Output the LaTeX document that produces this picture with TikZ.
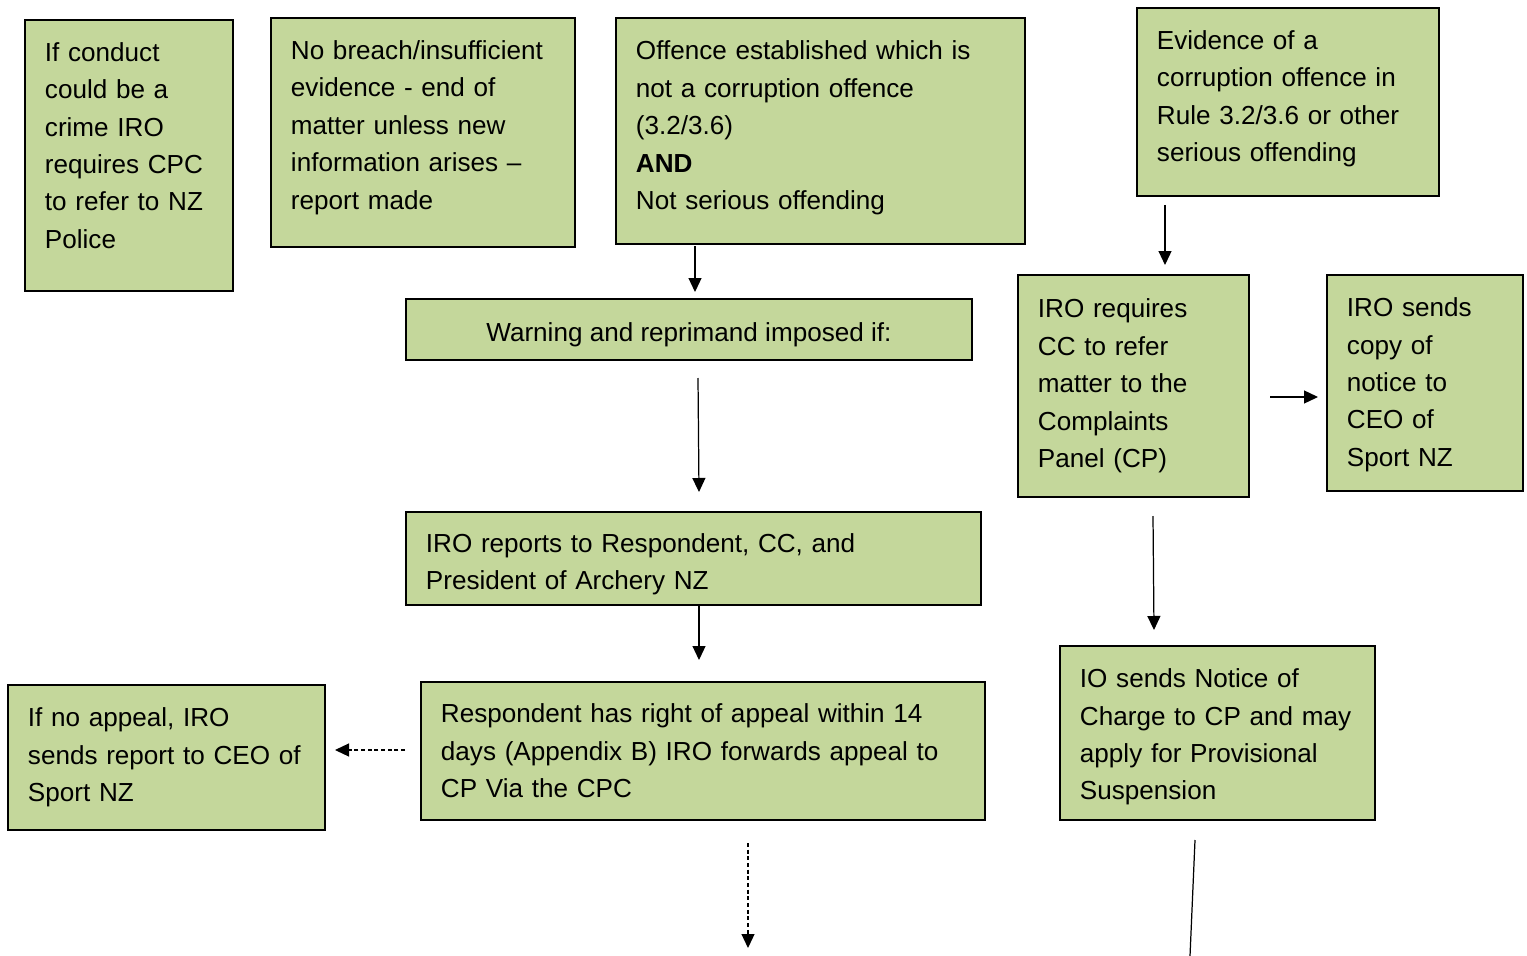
\documentclass[tikz,border=0pt]{standalone}
\usepackage{fontspec}
\setmainfont{Liberation Sans}
\usetikzlibrary{arrows.meta}
\definecolor{boxgreen}{RGB}{196,215,155}
\tikzset{
	box/.style={draw=black,line width=1.1pt,fill=boxgreen,anchor=north west,align=left,inner xsep=0.4cm,inner ysep=0pt,font=\fontsize{14.85pt}{21.3pt}\selectfont},
	arr/.style={line width=0.7pt,-{Triangle[length=0.28cm,width=0.26cm]}},
	dasharr/.style={arr,dash pattern=on 2.3pt off 1.5pt}
}
\begin{document}
\begin{tikzpicture}[x=0.02cm,y=-0.02cm]
	\useasboundingbox (0,0) rectangle (1527,956);
	% top row
	\node[box,text width=3.36cm,minimum height=5.42cm] (crime) at (24,19) {If conduct\\could be a\\crime IRO\\requires CPC\\to refer to NZ\\Police\par\kern11.4pt};
	\node[box,text width=5.28cm,minimum height=4.58cm] (nobreach) at (270,17) {No breach/insufficient\\evidence - end of\\matter unless new\\information arises --\\report made\par\kern5.7pt};
	\node[box,text width=7.38cm,minimum height=4.52cm] (offence) at (615,17) {Offence established which is\\not a corruption offence\\(3.2/3.6)\\\textbf{AND}\\Not serious offending\par\kern3.4pt};
	\node[box,text width=5.24cm,minimum height=3.76cm] (evidence) at (1136,7) {Evidence of a\\corruption offence in\\Rule 3.2/3.6 or other\\serious offending\par\kern3.4pt};
	% middle
	\node[box,align=center,minimum width=11.32cm,minimum height=1.22cm,text height=13.5pt,text depth=0pt] (warn) at (405,298) {Warning and reprimand imposed if:};
	\node[box,text width=3.82cm,minimum height=4.44cm] (refer) at (1017,274) {IRO requires\\CC to refer\\matter to the\\Complaints\\Panel (CP)};
	\node[box,text width=3.12cm,minimum height=4.32cm] (notice) at (1326,274) {IRO sends\\copy of\\notice to\\CEO of\\Sport NZ\par\kern-2pt};
	\node[box,text width=10.7cm,minimum height=1.86cm] (reports) at (405,511) {IRO reports to Respondent, CC, and\\President of Archery NZ\par\kern-6.8pt};
	% bottom row
	\node[box,text width=10.48cm,minimum height=2.76cm] (appeal) at (420,681) {Respondent has right of appeal within 14\\days (Appendix B) IRO forwards appeal to\\CP Via the CPC};
	\node[box,text width=5.54cm,minimum height=2.9cm] (noappeal) at (7,684) {If no appeal, IRO\\sends report to CEO of\\Sport NZ};
	\node[box,text width=5.5cm,minimum height=3.48cm] (charge) at (1059,645) {IO sends Notice of\\Charge to CP and may\\apply for Provisional\\Suspension\par\kern-4.6pt};
	% arrow ends
	\coordinate (offout) at (695,246);
	\coordinate (warnin) at (695,292);
	\coordinate (warnout) at (698,378);
	\coordinate (repin) at (699,492);
	\coordinate (repout) at (699,606);
	\coordinate (appin) at (699,660);
	\coordinate (evout) at (1165,205);
	\coordinate (refin) at (1165,265);
	\coordinate (refright) at (1270,397);
	\coordinate (notin) at (1318,397);
	\coordinate (refout) at (1153,516);
	\coordinate (chin) at (1154,630);
	\coordinate (appleft) at (405,750);
	\coordinate (noin) at (335,750);
	\coordinate (appout) at (748,843);
	\coordinate (append) at (748,948);
	\coordinate (chout) at (1195,840);
	\coordinate (chend) at (1190,956);
	\draw[arr] (offout) -- (warnin);
	\draw[arr] (warnout) -- (repin);
	\draw[arr] (repout) -- (appin);
	\draw[arr] (evout) -- (refin);
	\draw[arr] (refright) -- (notin);
	\draw[arr] (refout) -- (chin);
	\draw[dasharr] (appleft) -- (noin);
	\draw[dasharr] (appout) -- (append);
	\draw[line width=0.7pt] (chout) -- (chend);
\end{tikzpicture}
\end{document}
